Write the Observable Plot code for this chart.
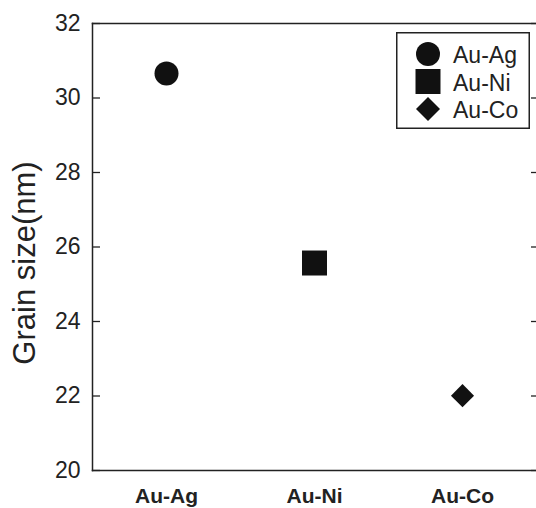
<!DOCTYPE html>
<html><head><meta charset="utf-8">
<script src="https://cdn.jsdelivr.net/npm/d3@7"></script>
<script src="https://cdn.jsdelivr.net/npm/@observablehq/plot@0.6"></script>
<style>
body{margin:0;background:#fff;}
#wrap{position:relative;width:536px;height:508px;overflow:hidden;background:#fff;}
#wrap svg.legend{position:absolute;left:396px;top:32px;}
</style></head><body><div id="wrap"></div>
<script>
// Data
const categories = ["Au-Ag", "Au-Ni", "Au-Co"];
const grainSize = [30.66, 25.57, 22.01];
const yTicks = [20, 22, 24, 26, 28, 30, 32];
const yLabel = "Grain size(nm)";

// Styles (kept separate from data)
const FONT = '"Liberation Sans", Arial, Helvetica, sans-serif';
const INK = "#111";
const symbolStyle = {
  "Au-Ag": {symbol: "circle", r: 12},
  "Au-Ni": {symbol: "square", r: 14.1},
  "Au-Co": {symbol: "diamond2", r: 10.4}
};

const data = categories.map((c, i) => ({alloy: c, size: grainSize[i]}));

const dotMarks = categories.map(c => Plot.dot(data, {
  filter: d => d.alloy === c,
  x: "alloy", y: "size",
  symbol: symbolStyle[c].symbol, r: symbolStyle[c].r,
  fill: INK, stroke: "none"
}));

const chart = Plot.plot({
  width: 536, height: 508,
  marginLeft: 92, marginRight: 0, marginTop: 23, marginBottom: 38,
  style: {fontFamily: FONT, color: "#222", background: "#fff"},
  x: {domain: categories, type: "point", padding: 0.5, label: null},
  y: {domain: [20, 32], label: null},
  marks: [
    Plot.frame({anchor: "left", stroke: "#222", strokeWidth: 1.5}),
    Plot.frame({anchor: "top", stroke: "#222", strokeWidth: 1.5}),
    Plot.frame({anchor: "bottom", stroke: "#222", strokeWidth: 1.5}),
    Plot.axisY({ticks: yTicks, tickSize: -8, tickPadding: 20, fontSize: 23, label: null, stroke: "#222", strokeWidth: 1.3}),
    Plot.axisY({anchor: "right", ticks: yTicks, tickSize: -6, tickFormat: () => "", label: null, stroke: "#222", strokeWidth: 1.3}),
    Plot.axisX({tickSize: 0, tickPadding: 18, fontSize: 21, fontWeight: "bold", label: null}),
    Plot.text([yLabel], {text: d => d, frameAnchor: "left", textAnchor: "middle", lineAnchor: "middle", rotate: -90, dx: -67, dy: 16, fontSize: 31, fill: "#222"}),
    ...dotMarks
  ]
});
const wrap = document.getElementById("wrap");
wrap.appendChild(chart);

// Legend (inside plot, top-right)
const lw = 134, lh = 97;
const leg = d3.create("svg").attr("class", "legend").attr("width", lw).attr("height", lh);
leg.append("rect").attr("x", 0.75).attr("y", 0.75).attr("width", lw - 1.5).attr("height", lh - 1.5)
  .attr("fill", "#fff").attr("stroke", "#222").attr("stroke-width", 1.5);
const legSym = {circle: d3.symbolCircle, square: d3.symbolSquare, diamond2: d3.symbolDiamond2};
const legSize = {"Au-Ag": 12, "Au-Ni": 14.1, "Au-Co": 10.8};
categories.forEach((c, i) => {
  const cy = 22 + i * 27.5;
  const r = legSize[c];
  leg.append("path")
    .attr("d", d3.symbol(legSym[symbolStyle[c].symbol], r * r * Math.PI)())
    .attr("transform", `translate(32,${cy})`).attr("fill", INK);
  leg.append("text").attr("x", 57).attr("y", cy + 1).attr("dominant-baseline", "central")
    .attr("font-family", FONT).attr("font-size", 23).attr("fill", "#222").text(c);
});
wrap.appendChild(leg.node());
</script>
</body></html>
